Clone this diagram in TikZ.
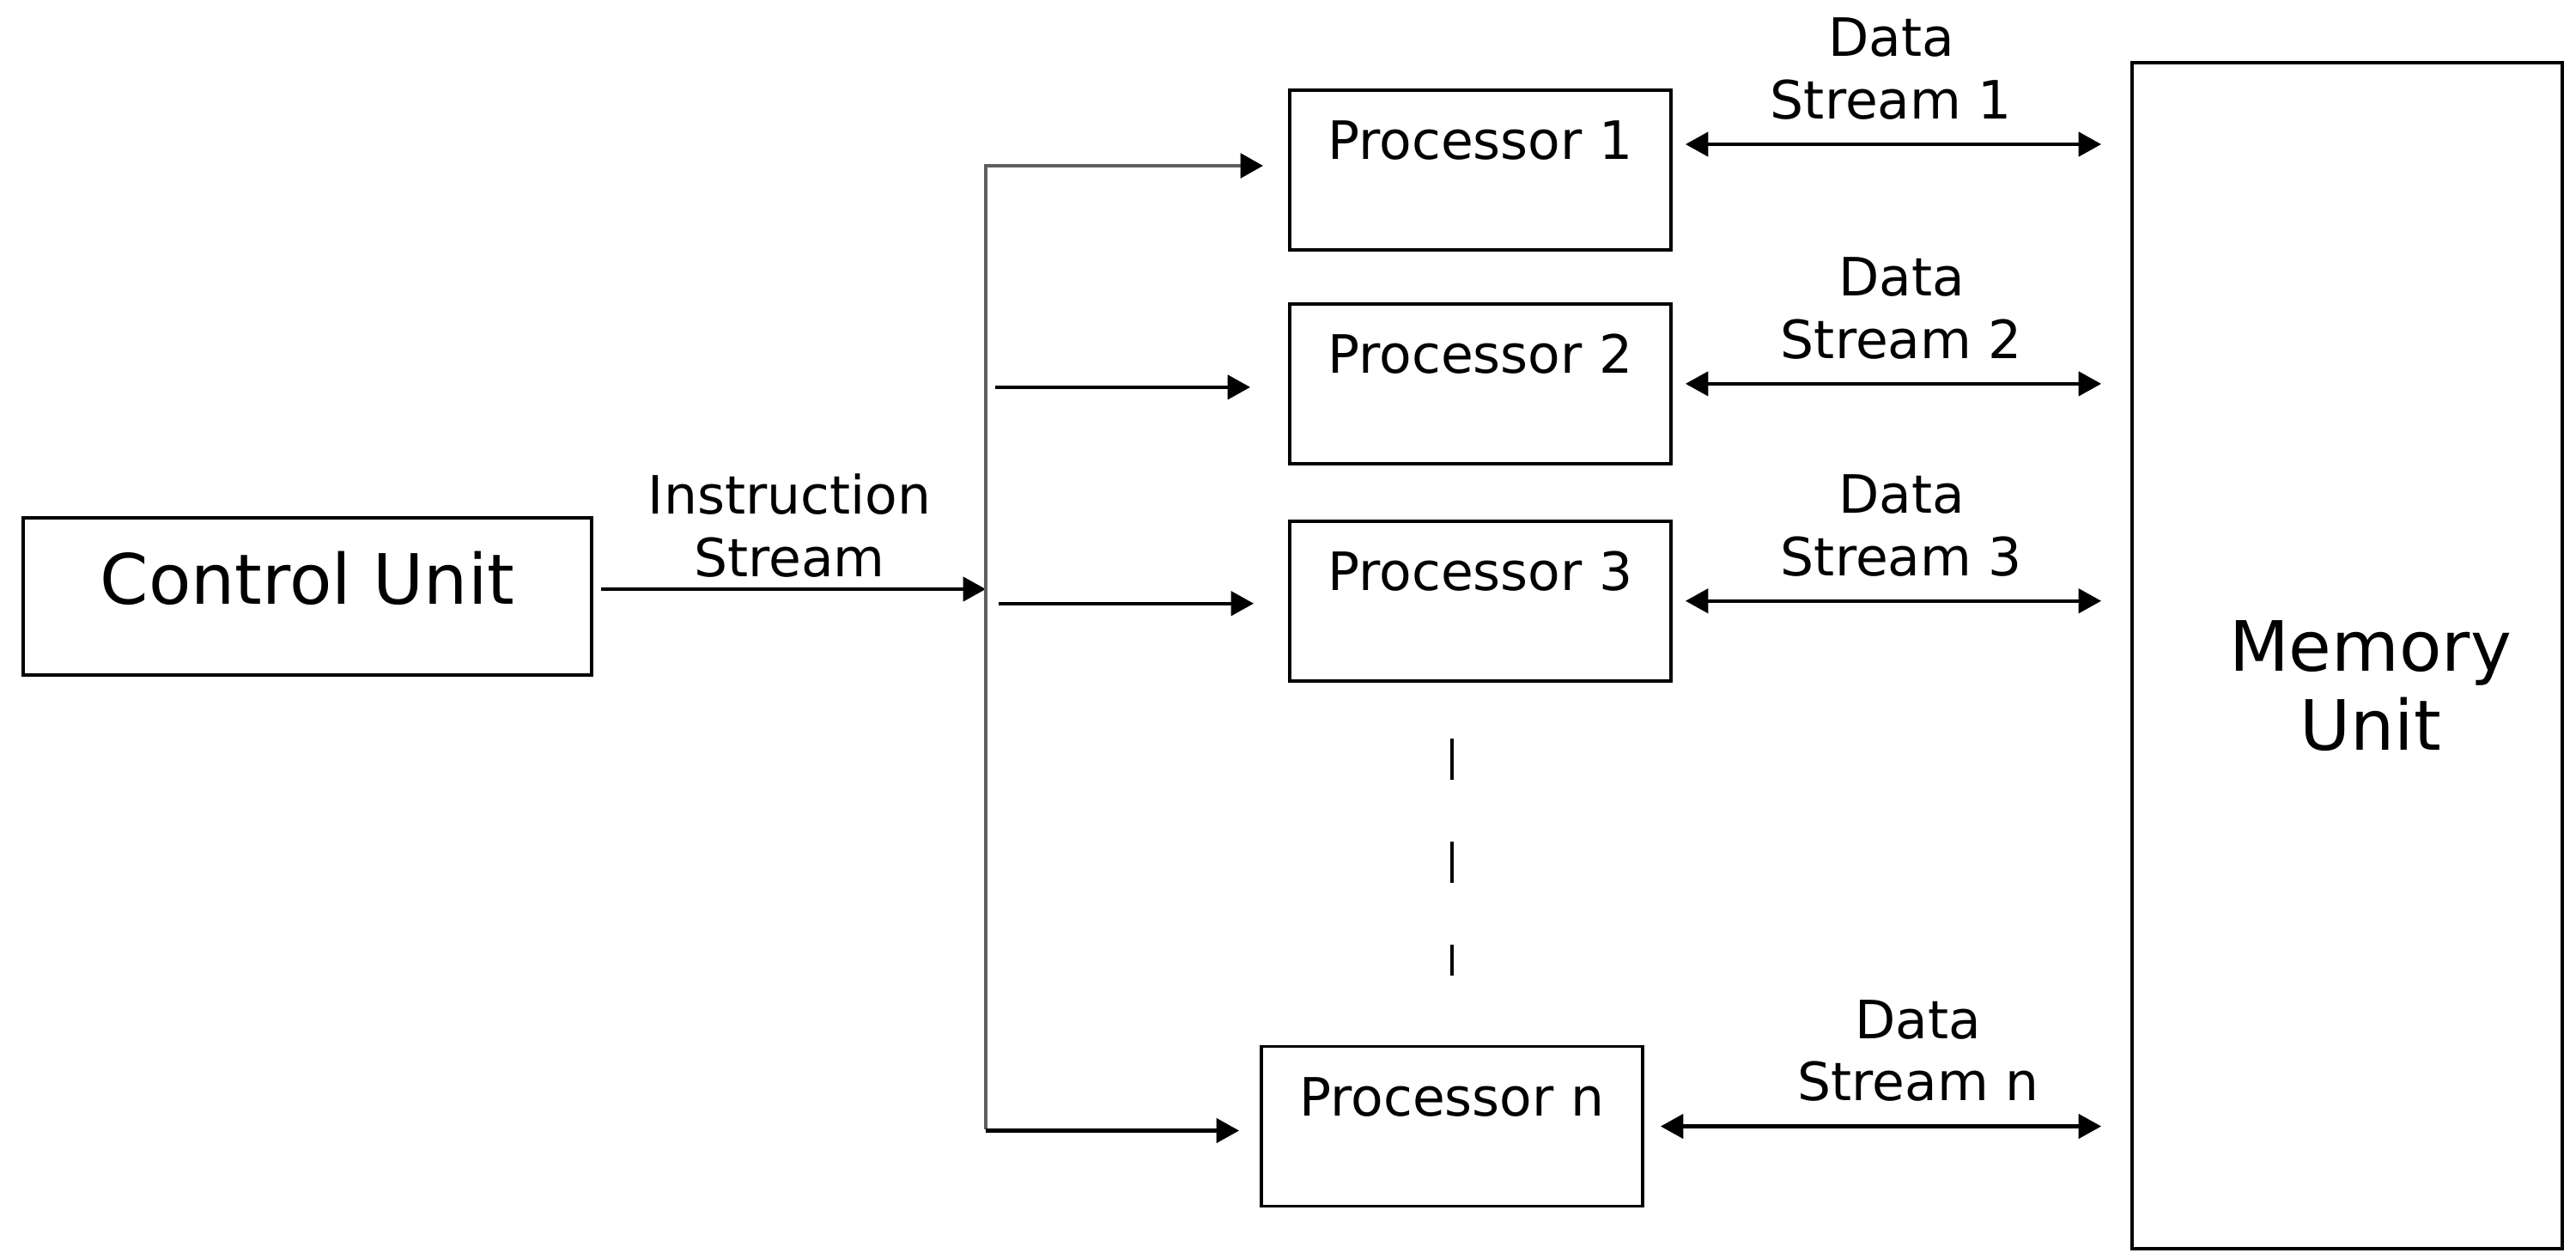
\documentclass[tikz,border=0pt]{standalone}
\usepackage{fontspec}
\setmainfont{DejaVu Sans}
\usepackage{xcolor}
\usepackage{tikz}
\usetikzlibrary{arrows.meta, positioning, calc}
\definecolor{busgray}{RGB}{95, 95, 95}

\begin{document}
\begin{tikzpicture}[
    unit/.style={draw, line width=1.1pt, minimum width=6.62cm, minimum height=1.83cm, font=\fontsize{23}{27}\selectfont, text height=17pt, text depth=12pt},
    proc/.style={draw, line width=1.1pt, minimum width=4.44cm, minimum height=1.86cm, font=\fontsize{17.5}{21}\selectfont, text height=13pt, text depth=20pt},
    memory/.style={draw, line width=1.1pt, minimum width=5.01cm, minimum height=13.81cm},
    bigtext/.style={font=\fontsize{23}{26}\selectfont, align=center},
    streamtext/.style={font=\fontsize{17.5}{20.7}\selectfont, align=center},
    busline/.style={line width=1.4pt, busgray},
    arrow/.style={-{Triangle[length=7.5pt, width=8pt, color=black]}, line width=1.15pt},
    dataarrow/.style={{Triangle[length=7.5pt, width=8pt]}-{Triangle[length=7.5pt, width=8pt]}, line width=1.15pt, shorten <=0.15cm, shorten >=0.34cm},
    gapline/.style={line width=1.1pt, dash pattern=on 0.48cm off 0.72cm}
]
    \useasboundingbox (0,0) rectangle (30,14.65);

    % Nodes
    \node[unit] (cu) at (3.58,7.705) {Control Unit};
    \node[proc] (p1) at (17.24,12.67) {Processor 1};
    \node[proc, below=0.59cm of p1] (p2) {Processor 2};
    \node[proc, below=0.63cm of p2] (p3) {Processor 3};
    \node[proc] (pn) at (16.91,1.535) {Processor n};
    \node[memory] (mem) at (27.335,7.015) {};
    \node[bigtext] (memtext) at ([xshift=0.27cm, yshift=-0.35cm]mem.center) {Memory\\Unit};

    % Instruction stream
    \coordinate (bus) at (11.48,7.79);
    \draw[arrow, shorten <=0.09cm] (cu.east |- bus) -- (bus) node[midway, above, streamtext] {Instruction\\Stream};
    \draw[arrow, busline, shorten >=0.29cm] ([yshift=-0.03cm]pn.west -| bus) -- ([yshift=0.05cm]p1.west -| bus) -- ([yshift=0.05cm]p1.west);
    \draw[arrow, shorten <=0.11cm, shorten >=0.44cm] ([yshift=-0.04cm]p2.west -| bus) -- ([yshift=-0.04cm]p2.west);
    \draw[arrow, shorten <=0.15cm, shorten >=0.4cm] ([yshift=-0.03cm]p3.west -| bus) -- ([yshift=-0.03cm]p3.west);
    \draw[arrow] ([yshift=-0.05cm]pn.west -| bus) -- ([xshift=-0.24cm, yshift=-0.05cm]pn.west);
    \draw[gapline] ([yshift=-0.65cm]p3.south -| pn.north) -- ([yshift=0.81cm]pn.north);

    % Data streams
    \draw[dataarrow] ([yshift=0.3cm]p1.east) -- ([yshift=0.3cm]p1.east -| mem.west) node[midway, above=0.15cm, xshift=-0.12cm, streamtext] {Data\\Stream 1};
    \draw[dataarrow] (p2.east) -- (p2.east -| mem.west) node[midway, above=0.15cm, streamtext] {Data\\Stream 2};
    \draw[dataarrow] (p3.east) -- (p3.east -| mem.west) node[midway, above=0.15cm, streamtext] {Data\\Stream 3};
    \draw[dataarrow, shorten <=0.19cm] (pn.east) -- (pn.east -| mem.west) node[midway, above=0.15cm, xshift=0.36cm, streamtext] {Data\\Stream n};
\end{tikzpicture}
\end{document}
